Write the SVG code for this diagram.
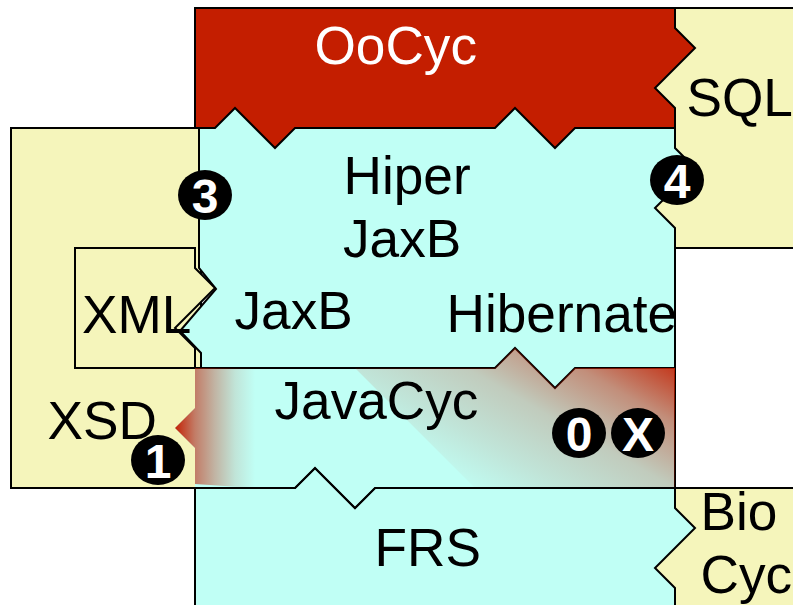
<svg xmlns="http://www.w3.org/2000/svg" width="793" height="605" viewBox="0 0 793 605">
<style>
.s{stroke:#000;stroke-width:2;stroke-linejoin:miter}
.y{fill:#f5f5bb}
.c{fill:#c0fff5}
.r{fill:#c41e00}
.t{font-family:"Liberation Sans",Arial,sans-serif;font-size:53.2px;fill:#000}
.w{fill:#fff}
.b{font-family:"Liberation Sans",Arial,sans-serif;font-size:48px;font-weight:700;fill:#fff;text-anchor:middle}
</style>
<defs>
<linearGradient id="gr" gradientUnits="userSpaceOnUse" x1="675" y1="368" x2="573" y2="545">
<stop offset="0" stop-color="#c41e00" stop-opacity=".88"/>
<stop offset=".235" stop-color="#c41e00" stop-opacity=".5"/>
<stop offset=".39" stop-color="#c41e00" stop-opacity=".35"/>
<stop offset=".51" stop-color="#c41e00" stop-opacity=".23"/>
<stop offset=".78" stop-color="#c41e00" stop-opacity=".12"/>
<stop offset="1" stop-color="#c41e00" stop-opacity=".02"/>
</linearGradient>
<linearGradient id="gl" gradientUnits="userSpaceOnUse" x1="175" y1="0" x2="255" y2="0">
<stop offset="0" stop-color="#c41e00" stop-opacity=".98"/>
<stop offset=".25" stop-color="#c41e00" stop-opacity=".58"/>
<stop offset=".5" stop-color="#c41e00" stop-opacity=".33"/>
<stop offset=".75" stop-color="#c41e00" stop-opacity=".12"/>
<stop offset="1" stop-color="#c41e00" stop-opacity="0"/>
</linearGradient>
</defs>
<g id="node-xsd"><rect class="y s" x="11" y="128" width="190" height="360"/></g>
<g id="node-sql"><rect class="y s" x="645" y="8" width="155" height="240"/></g>
<g id="node-bio"><rect class="y s" x="645" y="488" width="155" height="125"/></g>
<g id="node-hiper"><path class="c s" d="M199 100H645V128H675V148L695 168L655 208L675 228V488H199V368H201V353L180 331L216 289L199 268Z"/></g>
<g id="node-frs"><path class="c s" d="M195 488H295L315 468L355 508L375 488H675V508L695 528L655 568L675 588V615H195Z"/></g>
<g id="node-oocyc"><path class="r s" d="M195 8H675V28L695 48L655 88L675 108V128H575L555 148L515 108L495 128H295L275 148L235 108L215 128H195Z"/></g>
<g id="node-xml"><path class="y s" d="M75 248H195V268L215 288L175 328L195 348V368H75Z"/></g>
<g id="node-javacyc">
<path class="c" d="M195 369H495L515 349L555 389L575 369H674V487H375L355 507L315 467L295 487H195V448L175 428L195 408Z"/>
<path d="M195 368H495L515 348L555 388L575 368H675" fill="none" stroke="#000" stroke-width="2"/>
<path d="M355 368H495L515 348L555 388L575 368H675V488H475Z" fill="url(#gr)"/>
<path d="M195 368H255V488L195 484V448L175 428L195 408Z" fill="url(#gl)"/>
<path d="M11 488H295L315 468L355 508L375 488H675" fill="none" stroke="#000" stroke-width="2"/>
</g>
<g id="labels">
<text class="t w" x="314.500" y="64">OoCyc</text>
<text class="t" x="686.500" y="116">SQL</text>
<text class="t" x="343.500" y="194">Hiper</text>
<text class="t" x="343" y="257">JaxB</text>
<text class="t" x="234.500" y="329">JaxB</text>
<text class="t" x="446.500" y="332">Hibernate</text>
<text class="t" x="82" y="333">XML</text>
<text class="t" x="274.500" y="419">JavaCyc</text>
<text class="t" x="47.500" y="439">XSD</text>
<text class="t" x="374.500" y="566">FRS</text>
<text class="t" x="700.500" y="530">Bio</text>
<text class="t" x="700.500" y="593">Cyc</text>
</g>
<g id="badges">
<g id="badge-3"><ellipse cx="205" cy="195" rx="27" ry="25"/><text class="b" x="205" y="213">3</text></g>
<g id="badge-4"><ellipse cx="677" cy="180" rx="27" ry="25"/><text class="b" x="677" y="198">4</text></g>
<g id="badge-1"><ellipse cx="158" cy="460" rx="27" ry="25"/><text class="b" x="158" y="478">1</text></g>
<g id="badge-0"><ellipse cx="579" cy="433" rx="27" ry="25"/><text class="b" x="579" y="451">0</text></g>
<g id="badge-x"><ellipse cx="638" cy="433" rx="27" ry="25"/><text class="b" x="638" y="451">X</text></g>
</g>
</svg>
